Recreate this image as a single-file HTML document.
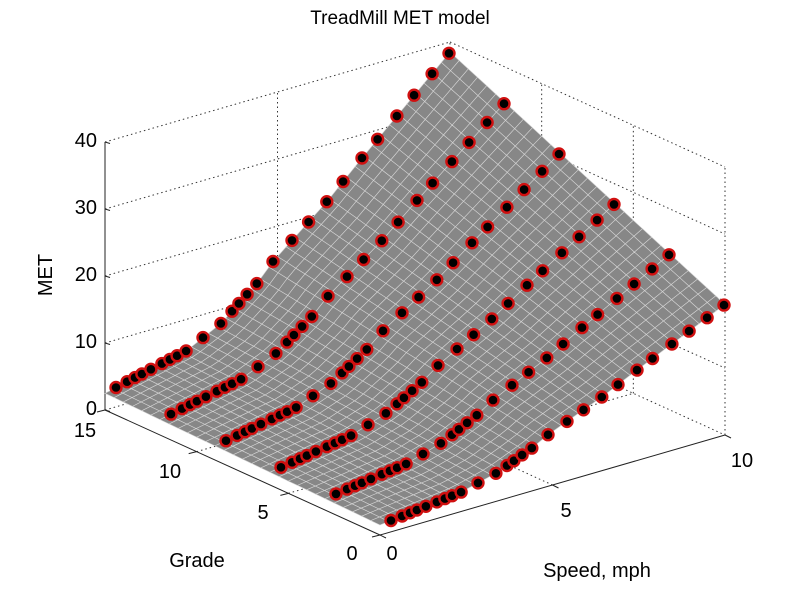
<!DOCTYPE html>
<html><head><meta charset="utf-8"><style>
html,body{margin:0;padding:0;background:#fff;}
svg{display:block;font-family:"Liberation Sans",Arial,sans-serif;}
</style></head><body>
<svg id="c" width="800" height="602" viewBox="0 0 800 602" xmlns="http://www.w3.org/2000/svg">
<rect width="800" height="602" fill="#fff"/>
<g id="grid" stroke="#333" stroke-width="1" stroke-dasharray="1.5,3" fill="none"></g>
<g id="axes" stroke="#222" stroke-width="1" fill="none"></g>
<g id="surf"></g>
<g id="mk"></g>
<g font-size="20" fill="#000">
<text x="400" y="24" text-anchor="middle" font-size="19">TreadMill MET model</text>
<text x="97" y="415" text-anchor="end">0</text>
<text x="97" y="348" text-anchor="end">10</text>
<text x="97" y="281" text-anchor="end">20</text>
<text x="97" y="214" text-anchor="end">30</text>
<text x="97" y="147" text-anchor="end">40</text>
<text x="85" y="437" text-anchor="middle">15</text>
<text x="170" y="478" text-anchor="middle">10</text>
<text x="263" y="519" text-anchor="middle">5</text>
<text x="352" y="560" text-anchor="middle">0</text>
<text x="392" y="560" text-anchor="middle">0</text>
<text x="566" y="517" text-anchor="middle">5</text>
<text x="742" y="467" text-anchor="middle">10</text>
<text x="52" y="275" text-anchor="middle" transform="rotate(-90 52 275)">MET</text>
<text x="197" y="567" text-anchor="middle">Grade</text>
<text x="597" y="577" text-anchor="middle">Speed, mph</text>
</g>
</svg>
<script>
function P(s,g,m){return [380+34.5*s-18.333*g, 535-10*s-8.333*g-6.7*m];}
var tb=[[0,1.5],[2.35,2.9],[3.36,4.2],[4.4,6.4],[4.87,7.7],[6.43,11],[7.45,13.5],[10,19.5]];
function m0(s){for(var i=0;i<tb.length-1;i++){if(s<=tb[i+1][0]){var a=tb[i],b=tb[i+1];return a[1]+(b[1]-a[1])*(s-a[0])/(b[0]-a[0]);}}return 19.5;}
function M(s,g){return 0.5+(m0(s)-0.5)*(1+g/15);}
var NS="http://www.w3.org/2000/svg";
function el(p,t,a){var e=document.createElementNS(NS,t);for(var k in a)e.setAttribute(k,a[k]);p.appendChild(e);return e;}
function ln(p,a,b){el(p,'line',{x1:a[0],y1:a[1],x2:b[0],y2:b[1]});}
var G=document.getElementById('grid'),A=document.getElementById('axes');
[0,10,20,30,40].forEach(function(m){ln(G,P(0,15,m),P(10,15,m));ln(G,P(10,15,m),P(10,0,m));});
ln(G,P(5,15,0),P(5,15,40));ln(G,P(10,15,0),P(10,15,40));ln(G,P(10,0,0),P(10,0,40));
[5,10].forEach(function(g){ln(G,P(10,g,0),P(10,g,40));ln(G,P(0,g,0),P(10,g,0));});
ln(G,P(5,0,0),P(5,15,0));
ln(A,P(0,15,0),P(0,15,40));ln(A,P(0,15,0),P(0,0,0));ln(A,P(0,0,0),P(10,0,0));
[0,10,20,30,40].forEach(function(m){var p=P(0,15,m);ln(A,p,[p[0]+5,p[1]+1.5]);});
[0,5,10,15].forEach(function(g){var p=P(0,g,0);ln(A,p,[p[0]-8,p[1]+2]);});
[0,5,10].forEach(function(s){var p=P(s,0,0);ln(A,p,[p[0]+6,p[1]+3]);});
var S=document.getElementById('surf'),q=[];
var ds=0.25,dg=0.5;
for(var i=0;i<40;i++)for(var j=0;j<30;j++){var s=i*ds,g=j*dg;q.push([s,g]);}
q.sort(function(a,b){return (b[0]+b[1]*0.6)-(a[0]+a[1]*0.6);});
q.forEach(function(c){var s=c[0],g=c[1];
var pts=[P(s,g,M(s,g)),P(s+ds,g,M(s+ds,g)),P(s+ds,g+dg,M(s+ds,g+dg)),P(s,g+dg,M(s,g+dg))];
el(S,'polygon',{points:pts.map(function(p){return p[0].toFixed(1)+','+p[1].toFixed(1);}).join(' '),fill:'#878787',stroke:'#d4d4d4','stroke-width':'0.6'});});
var K=document.getElementById('mk');
var sp=[0.32,0.64,0.87,1.07,1.33,1.65,1.88,2.09,2.35,2.84,3.36,3.68,3.88,4.12,4.4,4.87,5.42,5.9,6.43,6.9,7.45,7.9,8.46,8.96,9.48,9.97];
[15,12,9,6,3,0].forEach(function(g){sp.forEach(function(s){var p=P(s,g,M(s,g));
el(K,'circle',{cx:p[0].toFixed(1),cy:p[1].toFixed(1),r:5.5,fill:'#000',stroke:'#d01010','stroke-width':2.4});});});
</script>
</body></html>
